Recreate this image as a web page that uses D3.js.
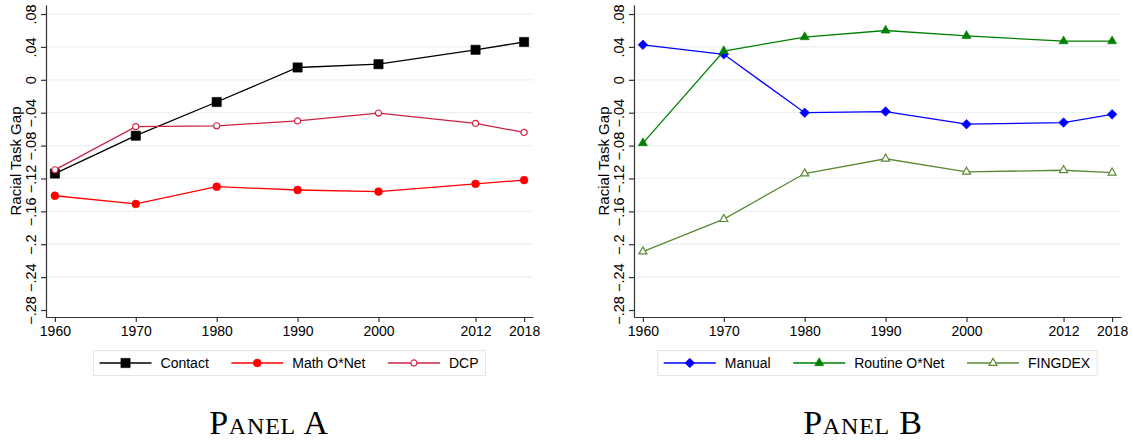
<!DOCTYPE html>
<html>
<head>
<meta charset="utf-8">
<script src="https://cdn.jsdelivr.net/npm/d3@7"></script>
<style>
  body { margin: 0; background: #fff; }
  svg { display: block; font-family: "Liberation Sans", Arial, sans-serif; }
</style>
</head>
<body>
<script>
// Racial task gap by year, two panels

var years = [1960, 1970, 1980, 1990, 2000, 2012, 2018];
var yTicks = [0.08, 0.04, 0, -0.04, -0.08, -0.12, -0.16, -0.2, -0.24, -0.28];

// panel A
var contact  = [-0.114, -0.068, -0.027, 0.015, 0.019, 0.0365, 0.046];
var mathONet = [-0.141, -0.151, -0.130, -0.134, -0.136, -0.1265, -0.122];
var dcp      = [-0.1095, -0.057, -0.056, -0.050, -0.0405, -0.053, -0.064];

// panel B
var manual      = [0.0426, 0.031, -0.040, -0.0386, -0.054, -0.052, -0.042];
var routineONet = [-0.077, 0.035, 0.052, 0.060, 0.0535, 0.047, 0.047];
var fingdex     = [-0.209, -0.1695, -0.114, -0.096, -0.112, -0.110, -0.113];

// marker / colour per series
var styles = {
  "Contact":       {color: "#000000", shape: "square",   fill: true},
  "Math O*Net":    {color: "#ff0000", shape: "circle",   fill: true},
  "DCP":           {color: "#cc2244", shape: "ocircle",  fill: false},
  "Manual":        {color: "#0000ff", shape: "diamond",  fill: true},
  "Routine O*Net": {color: "#008000", shape: "triangle", fill: true},
  "FINGDEX":       {color: "#5b8a36", shape: "otriangle", fill: false}
};

var symbols = {
  square:    d3.symbol().type(d3.symbolSquare).size(85),
  circle:    d3.symbol().type(d3.symbolCircle).size(48),
  ocircle:   d3.symbol().type(d3.symbolCircle).size(30),
  diamond:   d3.symbol().type(d3.symbolSquare).size(46),
  triangle:  d3.symbol().type(d3.symbolTriangle).size(36),
  otriangle: d3.symbol().type(d3.symbolTriangle).size(28)
};

var W = 1133, H = 440;
var plot = {left: 46, right: 533, top: 5, bottom: 317};

var svg = d3.select("body").append("svg")
  .attr("width", W)
  .attr("height", H);

svg.append("rect").attr("width", W).attr("height", H).attr("fill", "#fff");

var x = d3.scaleLinear()
  .domain([1958.9, 2019.1])
  .range([plot.left, plot.right]);

var y = d3.scaleLinear()
  .domain([-0.2885, 0.091])
  .range([plot.bottom, plot.top]);

function fmtY(d) {
  if (Math.abs(d) < 1e-9) return "0";
  var s = String(+Math.abs(d).toFixed(2)).replace(/^0/, "");
  return (d < 0 ? "\u2212" : "") + s;
}

function drawMarker(sel, shape, st) {
  sel.attr("d", symbols[shape]())
    .attr("fill", st.fill ? st.color : "#fff")
    .attr("stroke", st.color)
    .attr("stroke-width", st.fill ? 0.6 : 1.2);
}

function drawPanel(offsetX, series, title, titleX) {
  var g = svg.append("g").attr("transform", "translate(" + offsetX + ",0)");

  // gridlines (none on the bottom tick)
  g.append("g").selectAll("line")
    .data(yTicks.filter(function(d) { return d > -0.27; }))
    .enter().append("line")
      .attr("x1", plot.left).attr("x2", plot.right)
      .attr("y1", function(d) { return y(d); })
      .attr("y2", function(d) { return y(d); })
      .attr("stroke", "#eaf2f3")
      .attr("stroke-width", 1.3);

  // y axis
  var ya = g.append("g")
    .attr("transform", "translate(" + plot.left + ",0)")
    .call(d3.axisLeft(y).tickValues(yTicks).tickFormat(fmtY).tickSize(5).tickSizeOuter(0));
  ya.attr("font-family", "\"Liberation Sans\", Arial, sans-serif").attr("font-size", 14.5);
  ya.select(".domain").attr("stroke", "#333").attr("stroke-width", 1.2);
  ya.selectAll(".tick line").attr("stroke", "#333").attr("stroke-width", 1.2);
  ya.selectAll(".tick text")
    .attr("x", null).attr("dy", null)
    .attr("transform", "translate(-10,0) rotate(-90)")
    .attr("text-anchor", "middle")
    .attr("fill", "#000");

  // x axis
  var xa = g.append("g")
    .attr("transform", "translate(0," + plot.bottom + ")")
    .call(d3.axisBottom(x).tickValues(years).tickFormat(d3.format("d")).tickSize(5).tickSizeOuter(0));
  xa.attr("font-family", "\"Liberation Sans\", Arial, sans-serif").attr("font-size", 14);
  xa.select(".domain").attr("stroke", "#333").attr("stroke-width", 1.2);
  xa.selectAll(".tick line").attr("stroke", "#333").attr("stroke-width", 1.2);
  xa.selectAll(".tick text")
    .attr("y", 19).attr("dy", null)
    .attr("fill", "#000");

  // axis title
  g.append("text")
    .attr("transform", "translate(21," + ((plot.top + plot.bottom) / 2) + ") rotate(-90)")
    .attr("text-anchor", "middle")
    .style("font-size", "15px")
    .text("Racial Task Gap");

  var line = d3.line()
    .x(function(d, i) { return x(years[i]); })
    .y(function(d) { return y(d); });

  series.forEach(function(s) {
    var st = styles[s.name];
    g.append("path")
      .datum(s.values)
      .attr("d", line)
      .attr("fill", "none")
      .attr("stroke", st.color)
      .attr("stroke-width", 1.3);
    g.append("g").selectAll("path")
      .data(s.values)
      .enter().append("path")
        .attr("transform", function(d, i) {
          var r = st.shape == "diamond" ? " rotate(45)" : "";
          return "translate(" + x(years[i]) + "," + y(d) + ")" + r;
        })
        .call(drawMarker, st.shape, st);
  });

  // legend
  var leg = g.append("g");
  var box = leg.append("rect");
  var cx = 0, pad = 6, lineLen = 52;
  series.forEach(function(s, i) {
    var st = styles[s.name];
    var e = leg.append("g").attr("transform", "translate(" + cx + ",0)");
    e.append("line")
      .attr("x1", 0).attr("x2", lineLen)
      .attr("stroke", st.color).attr("stroke-width", 1.3);
    e.append("path")
      .attr("transform", "translate(" + (lineLen / 2) + ",0)" + (st.shape == "diamond" ? " rotate(45)" : ""))
      .call(drawMarker, st.shape, st);
    var t = e.append("text")
      .attr("x", lineLen + 9).attr("dy", "0.35em")
      .style("font-size", "14px")
      .text(s.name);
    cx += lineLen + 9 + t.node().getComputedTextLength() + (i < series.length - 1 ? 22.5 : 0);
  });
  var legW = cx + pad * 2 + 1;
  var legX = (plot.left + plot.right) / 2 - legW / 2;
  leg.attr("transform", "translate(" + (legX + pad) + ",363)");
  box.attr("x", -pad).attr("y", -12.5).attr("width", legW).attr("height", 25)
    .attr("fill", "#fff").attr("stroke", "#dde8e8").attr("stroke-width", 1);

  // panel title, small caps serif
  svg.append("text")
    .attr("x", titleX).attr("y", 434)
    .attr("text-anchor", "middle")
    .style("font-family", "\"Liberation Serif\", \"DejaVu Serif\", serif")
    .style("font-variant", "small-caps")
    .style("font-size", "34px")
    .style("letter-spacing", "0.8px")
    .text(title);
}

drawPanel(0, [
  {name: "Contact", values: contact},
  {name: "Math O*Net", values: mathONet},
  {name: "DCP", values: dcp}
], "Panel A", 269);

drawPanel(588, [
  {name: "Manual", values: manual},
  {name: "Routine O*Net", values: routineONet},
  {name: "FINGDEX", values: fingdex}
], "Panel B", 863);
</script>
</body>
</html>
